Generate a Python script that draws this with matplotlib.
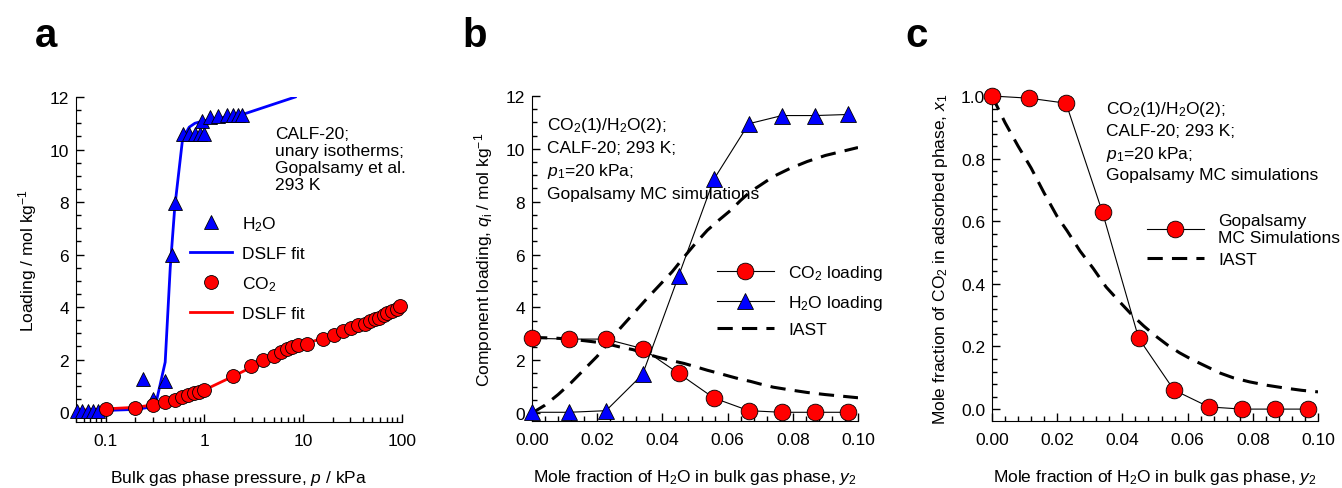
import numpy as np
import matplotlib
matplotlib.use("Agg")
import matplotlib.pyplot as plt
from matplotlib.ticker import MultipleLocator, LogLocator, FixedLocator, NullFormatter

plt.rcParams['font.family'] = ['Liberation Sans', 'DejaVu Sans']
plt.rcParams['mathtext.fontset'] = 'custom'
plt.rcParams['mathtext.rm'] = 'Liberation Sans'
plt.rcParams['mathtext.it'] = 'Liberation Sans:italic'
plt.rcParams['font.size'] = 12

# ---- panel a: unary isotherms ----
h2o_p = [0.0506, 0.058, 0.066, 0.074, 0.083, 0.24, 0.30, 0.40, 0.47, 0.50,
         0.60, 0.70, 0.80, 0.90, 1.0, 0.95, 1.15, 1.38, 1.70, 1.96, 2.2, 2.4]
h2o_q = [0.05, 0.05, 0.05, 0.05, 0.05, 1.25, 0.5, 1.2, 6.0, 7.95,
         10.6, 10.6, 10.6, 10.6, 10.6, 11.1, 11.25, 11.28, 11.3, 11.3, 11.3, 11.3]
h2o_fit_p = [0.05, 0.1, 0.2, 0.3, 0.33, 0.4, 0.45, 0.5, 0.6, 0.7, 0.8, 1.0, 2.5, 8.3]
h2o_fit_q = [0.04, 0.06, 0.1, 0.2, 0.5, 1.9, 5.5, 7.8, 10.4, 10.85, 11.0, 11.1, 11.35, 12.0]

co2_p = [0.1, 0.2, 0.3, 0.4, 0.5, 0.59, 0.68, 0.79, 0.89, 1.0,
         1.96, 2.98, 3.95, 5.0, 5.9, 6.9, 7.7, 8.9, 10.9, 15.9, 20.4, 25, 30.8,
         35.9, 42, 47, 53, 59, 65, 71, 79, 89, 95]
co2_q = [0.12, 0.15, 0.27, 0.38, 0.47, 0.57, 0.65, 0.73, 0.78, 0.84,
         1.38, 1.74, 1.97, 2.12, 2.27, 2.39, 2.46, 2.54, 2.61, 2.8, 2.95, 3.07, 3.2,
         3.3, 3.37, 3.48, 3.56, 3.6, 3.7, 3.78, 3.85, 3.94, 4.05]
co2_fit_p = [0.05, 0.1, 0.2, 0.3, 0.5, 1.0, 2.0, 5.0, 10.0, 20.0, 50.0, 100.0]
co2_fit_q = [0.06, 0.12, 0.18, 0.27, 0.47, 0.84, 1.38, 2.12, 2.58, 2.93, 3.5, 4.05]

# ---- panel b/c: binary mixture ----
y2 = [0.0, 0.0114, 0.0227, 0.0339, 0.045, 0.0558, 0.0665, 0.0767, 0.0869, 0.0968]
q_co2 = [2.83, 2.8, 2.8, 2.44, 1.5, 0.57, 0.09, 0.03, 0.03, 0.03]
q_h2o = [0.03, 0.03, 0.09, 1.46, 5.2, 8.85, 10.95, 11.26, 11.26, 11.3]
x1_sim = [1.0, 0.993, 0.977, 0.628, 0.226, 0.061, 0.007, 0.0, 0.0, 0.0]

iast_y2 = [0.0, 0.004, 0.008, 0.012, 0.016, 0.02, 0.023, 0.027, 0.031, 0.035, 0.0385,
           0.043, 0.0466, 0.05, 0.0538, 0.0575, 0.061, 0.064, 0.067, 0.07, 0.074,
           0.079, 0.0844, 0.09, 0.095, 0.1]
iast_q_h2o = [0.0, 0.3, 0.7, 1.15, 1.65, 2.15, 2.6, 3.2, 3.75, 4.3, 4.76,
              5.35, 5.9, 6.4, 6.92, 7.32, 7.68, 8.05, 8.38, 8.62, 8.95,
              9.25, 9.52, 9.75, 9.9, 10.05]
iast_q_co2 = [2.86, 2.85, 2.83, 2.79, 2.74, 2.68, 2.62, 2.5, 2.4, 2.24, 2.12,
              1.98, 1.88, 1.76, 1.62, 1.5, 1.38, 1.28, 1.2, 1.1, 0.98,
              0.88, 0.78, 0.7, 0.64, 0.58]
iast_x1 = [1.0, 0.915, 0.84, 0.77, 0.69, 0.615, 0.57, 0.505, 0.45, 0.39, 0.35,
           0.3, 0.265, 0.235, 0.205, 0.18, 0.16, 0.145, 0.13, 0.115, 0.1,
           0.087, 0.076, 0.067, 0.06, 0.055]

W, H = 1342, 489
fig = plt.figure(figsize=(W / 100, H / 100), dpi=100)


def add_axes(left, right, top, bottom):
    return fig.add_axes([left / W, 1 - bottom / H, (right - left) / W, (bottom - top) / H])


def style(ax):
    ax.spines['top'].set_visible(False)
    ax.spines['right'].set_visible(False)
    ax.tick_params(which='both', direction='in', top=False, right=False)
    ax.tick_params(which='major', length=6, width=1, labelsize=12.5)
    ax.tick_params(which='minor', length=3.5, width=1)
    ax.tick_params(axis='x', which='major', pad=8)
    ax.tick_params(axis='y', which='major', pad=5)


ms_tri = dict(marker='^', mfc='blue', mec='black', mew=0.6)
ms_circ = dict(marker='o', mfc='red', mec='black', mew=0.6)
leg_kw = dict(frameon=False, fontsize=12.5, borderpad=0, borderaxespad=0, loc='upper left')

# panel a
ax1 = add_axes(76, 402, 98, 423)
ax1.set_xscale('log')
ax1.plot(h2o_fit_p, h2o_fit_q, color='blue', lw=2.0, label='DSLF fit', zorder=2)
ax1.plot(co2_fit_p, co2_fit_q, color='red', lw=2.0, label='DSLF fit', zorder=2)
ax1.plot(h2o_p, h2o_q, ls='none', ms=10, label='H$_2$O', clip_on=False, zorder=3, **ms_tri)
ax1.plot(co2_p, co2_q, ls='none', ms=10, label='CO$_2$', clip_on=False, zorder=3, **ms_circ)
ax1.set_xlim(0.05, 100)
ax1.set_ylim(-0.38, 12)
ax1.yaxis.set_major_locator(FixedLocator([0, 2, 4, 6, 8, 10, 12]))
ax1.yaxis.set_minor_locator(MultipleLocator(0.5))
ax1.xaxis.set_major_locator(FixedLocator([0.1, 1, 10, 100]))
ax1.xaxis.set_minor_locator(LogLocator(base=10, subs=np.arange(2, 10)))
ax1.xaxis.set_minor_formatter(NullFormatter())
ax1.set_xticklabels(['0.1', '1', '10', '100'])
style(ax1)
ax1.set_xlabel('Bulk gas phase pressure, $p$ / kPa', fontsize=12.5, labelpad=14)
ax1.set_ylabel('Loading / mol kg$^{-1}$', fontsize=12.5, labelpad=8)
h, l = ax1.get_legend_handles_labels()
ax1.legend([h[2], h[0], h[3], h[1]], [l[2], l[0], l[3], l[1]],
           bbox_to_anchor=(0.35, 0.64), handlelength=2.4,
           handletextpad=0.6, labelspacing=0.75, **leg_kw)
ax1.text(0.61, 0.91, 'CALF-20;\nunary isotherms;\nGopalsamy et al.\n293 K',
         transform=ax1.transAxes, va='top', ha='left', fontsize=12.5, linespacing=1.15)

# panel b
ax2 = add_axes(532, 858, 97, 422)
ax2.plot(y2, q_co2, color='black', lw=0.8, ms=12, label='CO$_2$ loading',
         clip_on=False, zorder=3, **ms_circ)
ax2.plot(y2, q_h2o, color='black', lw=0.8, ms=12, label='H$_2$O loading',
         clip_on=False, zorder=3, **ms_tri)
ax2.plot(iast_y2, iast_q_h2o, color='black', lw=2.2, ls=(0, (5, 3)), label='IAST', zorder=2)
ax2.plot(iast_y2, iast_q_co2, color='black', lw=2.2, ls=(0, (5, 3)), zorder=2)
ax2.set_xlim(0, 0.1)
ax2.set_ylim(-0.3, 12)
ax2.yaxis.set_major_locator(FixedLocator([0, 2, 4, 6, 8, 10, 12]))
ax2.yaxis.set_minor_locator(MultipleLocator(0.5))
ax2.xaxis.set_major_locator(MultipleLocator(0.02))
ax2.xaxis.set_minor_locator(MultipleLocator(0.004))
ax2.xaxis.set_major_formatter(matplotlib.ticker.FormatStrFormatter('%.2f'))
style(ax2)
ax2.set_xlabel('Mole fraction of H$_2$O in bulk gas phase, $y_2$', fontsize=12.5, labelpad=14)
ax2.set_ylabel('Component loading, $q_\\mathrm{i}$ / mol kg$^{-1}$', fontsize=12.5, labelpad=8)
ax2.legend(bbox_to_anchor=(0.567, 0.485), handlelength=3.3, handletextpad=0.8,
           labelspacing=0.6, **leg_kw)
ax2.text(0.047, 0.94, 'CO$_2$(1)/H$_2$O(2);\nCALF-20; 293 K;\n$p_1$=20 kPa;\nGopalsamy MC simulations',
         transform=ax2.transAxes, va='top', ha='left', fontsize=12.5, linespacing=1.45)

# panel c
ax3 = add_axes(992, 1318, 97, 422)
ax3.plot(y2, x1_sim, color='black', lw=0.8, ms=12, label='Gopalsamy\nMC Simulations',
         clip_on=False, zorder=3, **ms_circ)
ax3.plot(iast_y2, iast_x1, color='black', lw=2.2, ls=(0, (5, 3)), label='IAST', zorder=2)
ax3.set_xlim(0, 0.1)
ax3.set_ylim(-0.038, 1.0)
ax3.yaxis.set_major_locator(FixedLocator([0, 0.2, 0.4, 0.6, 0.8, 1.0]))
ax3.yaxis.set_major_formatter(matplotlib.ticker.FormatStrFormatter('%.1f'))
ax3.yaxis.set_minor_locator(MultipleLocator(0.04))
ax3.xaxis.set_major_locator(MultipleLocator(0.02))
ax3.xaxis.set_minor_locator(MultipleLocator(0.004))
ax3.xaxis.set_major_formatter(matplotlib.ticker.FormatStrFormatter('%.2f'))
style(ax3)
ax3.set_xlabel('Mole fraction of H$_2$O in bulk gas phase, $y_2$', fontsize=12.5, labelpad=14)
ax3.set_ylabel('Mole fraction of CO$_2$ in adsorbed phase, $x_1$', fontsize=12.5, labelpad=8)
ax3.legend(bbox_to_anchor=(0.475, 0.64), handlelength=3.3, handletextpad=0.8,
           labelspacing=0.35, **leg_kw)
ax3.text(0.35, 0.99, 'CO$_2$(1)/H$_2$O(2);\nCALF-20; 293 K;\n$p_1$=20 kPa;\nGopalsamy MC simulations',
         transform=ax3.transAxes, va='top', ha='left', fontsize=12.5, linespacing=1.4)

for lab, xp in (('a', 35), ('b', 462), ('c', 905)):
    fig.text(xp / W, 1 - 36 / H, lab, fontsize=29, fontweight='bold', ha='left', va='center')

fig.savefig('out.png', dpi=100)
